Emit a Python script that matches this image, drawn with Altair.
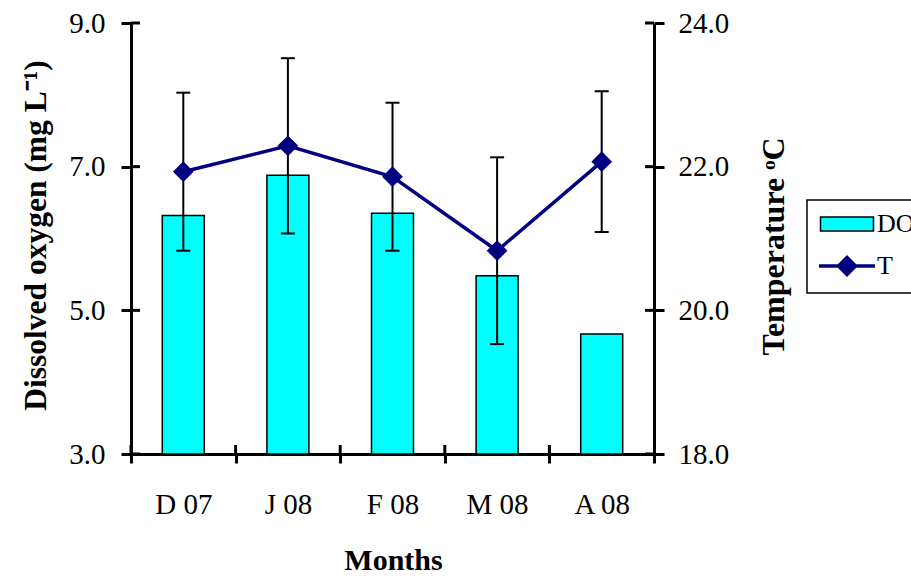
import altair as alt
import pandas as pd

# Monthly dissolved oxygen (bars, left axis) and water temperature (line with SD bars, right axis)
months = ["D 07", "J 08", "F 08", "M 08", "A 08"]
dissolved_oxygen = [6.32, 6.88, 6.35, 5.48, 4.67]
temperature = [21.93, 22.29, 21.86, 20.83, 22.07]
temperature_err = [1.10, 1.22, 1.03, 1.30, 0.98]
do_ticks = [3.0, 5.0, 7.0, 9.0]
temp_ticks = [18.0, 20.0, 22.0, 24.0]
series_names = ["DO", "T"]
series_fill = ["#00FFFF", "#000080"]
series_stroke = ["#000000", "#000080"]
series_stroke_width = [1.5, 3.5]
# legend keys: a box for the bars, a line with a diamond for the temperature
series_symbols = ["M-2.65,-0.7H2.65V0.7H-2.65Z", "M-2.8,0H2.8M0,-0.85L0.85,0L0,0.85L-0.85,0Z"]

CYAN, NAVY = series_fill
W, H = 523, 431
FONT = "Liberation Serif"
DO_BASE = do_ticks[0]

do_df = pd.DataFrame({"month": months, "value": dissolved_oxygen})
t_df = pd.DataFrame({"month": months, "value": temperature, "err": temperature_err})
do_tick_df = pd.DataFrame({"value": do_ticks})
t_tick_df = pd.DataFrame({"value": temp_ticks})
legend_df = pd.DataFrame({"series": series_names})

common_axis = dict(
    domainColor="black", domainWidth=3, tickColor="black", tickWidth=3,
    labelFont=FONT, labelColor="black", labelFontSize=29,
    titleFont=FONT, titleColor="black", titleFontWeight="bold", grid=False,
)

x_axis = alt.Axis(
    title="Months", orient="bottom", labelAngle=0, tickBand="extent",
    tickSize=9, labelPadding=27, titleFontSize=30,
    titleX=262, titleY=115, titleBaseline="alphabetic", titleAlign="center",
    **common_axis,
)
x_scale = alt.Scale(type="band", domain=months, paddingInner=0, paddingOuter=0)


def x_enc(**kw):
    return alt.X("month:N", scale=x_scale, axis=x_axis, **kw)


do_scale = alt.Scale(domain=[3, 9], nice=False, zero=False)
do_axis = alt.Axis(
    title="Dissolved oxygen (mg L⁻¹)", orient="left", values=do_ticks, format=".1f",
    tickSize=10, labelPadding=16, titleFontSize=31.5, titleAngle=270,
    titleX=-86, titleY=212, titleAlign="center", titleBaseline="alphabetic",
    **common_axis,
)

t_scale = alt.Scale(domain=[18, 24], nice=False, zero=False)
t_axis = alt.Axis(
    title="Temperature ᵒC", orient="right", values=temp_ticks, format=".1f",
    tickSize=10, labelPadding=14, titleFontSize=32, titleAngle=270,
    titleX=129, titleY=223, titleAlign="center", titleBaseline="alphabetic",
    **common_axis,
)


def do_y(field="value"):
    return alt.Y(f"{field}:Q", scale=do_scale, axis=do_axis)


def t_y(field="value"):
    return alt.Y(f"{field}:Q", scale=t_scale, axis=t_axis)


# --- dissolved oxygen bars (rising from the axis floor) and the inner halves of the left / bottom ticks
bars = alt.Chart(do_df).mark_bar(size=42, fill=CYAN, stroke="black", strokeWidth=1.5).encode(
    x=x_enc(), y=do_y(), y2=alt.datum(DO_BASE),
)
left_ticks_in = alt.Chart(do_tick_df).mark_rule(color="black", strokeWidth=3).encode(
    y=do_y(), x=alt.value(0), x2=alt.value(9),
)
bottom_ticks_in = alt.Chart(do_df).mark_rule(color="black", strokeWidth=3).encode(
    x=x_enc(bandPosition=0), y=alt.value(H - 9), y2=alt.value(H),
)
do_layer = alt.layer(bars, left_ticks_in, bottom_ticks_in)

# --- temperature with error bars
t_base = alt.Chart(t_df).transform_calculate(
    lo="datum.value - datum.err", hi="datum.value + datum.err"
)
err_rule = t_base.mark_rule(color="black", strokeWidth=2).encode(
    x=x_enc(), y=t_y("lo"), y2="hi:Q",
)
err_caps = t_base.transform_fold(["lo", "hi"], as_=["end", "ypos"]).mark_tick(
    color="black", size=14, thickness=2, opacity=1
).encode(x=x_enc(), y=t_y("ypos"))
t_line = alt.Chart(t_df).mark_line(color=NAVY, strokeWidth=3.5).encode(
    x=x_enc(), y=t_y(),
)
t_points = alt.Chart(t_df).mark_point(
    shape="diamond", filled=True, size=430, opacity=1, color=NAVY
).encode(x=x_enc(), y=t_y())
right_ticks_in = alt.Chart(t_tick_df).mark_rule(color="black", strokeWidth=3).encode(
    y=t_y(), x=alt.value(W - 9), x2=alt.value(W),
)
t_layer = alt.layer(err_rule, err_caps, t_line, t_points, right_ticks_in)

# --- legend: a key-only layer (no rows drawn) carrying the series scales
legend = alt.Legend(
    title=None, orient="none", legendX=676, legendY=177,
    labelFont=FONT, labelFontSize=26, labelColor="black",
    symbolSize=400, symbolOffset=16, labelOffset=17,
    padding=11, rowPadding=13,
    strokeColor="black", fillColor="white",
)
key_layer = alt.Chart(legend_df).transform_filter("false").mark_point(opacity=1).encode(
    fill=alt.Fill("series:N", scale=alt.Scale(domain=series_names, range=series_fill), legend=legend),
    stroke=alt.Stroke("series:N", scale=alt.Scale(domain=series_names, range=series_stroke), legend=legend),
    shape=alt.Shape("series:N", scale=alt.Scale(domain=series_names, range=series_symbols), legend=legend),
    strokeWidth=alt.StrokeWidth("series:O", scale=alt.Scale(domain=series_names, range=series_stroke_width), legend=legend),
)

chart = (
    alt.layer(do_layer, t_layer, key_layer)
    .resolve_scale(y="independent")
    .properties(
        width=W, height=H,
        padding={"left": 131, "top": 23, "right": 257, "bottom": 122},
        autosize=alt.AutoSizeParams(type="none"),
    )
    .configure_view(strokeWidth=0)
    .configure_legend(strokeWidth=1.5)
)

chart.save("out.html", embed_options={"renderer": "svg", "actions": False})
